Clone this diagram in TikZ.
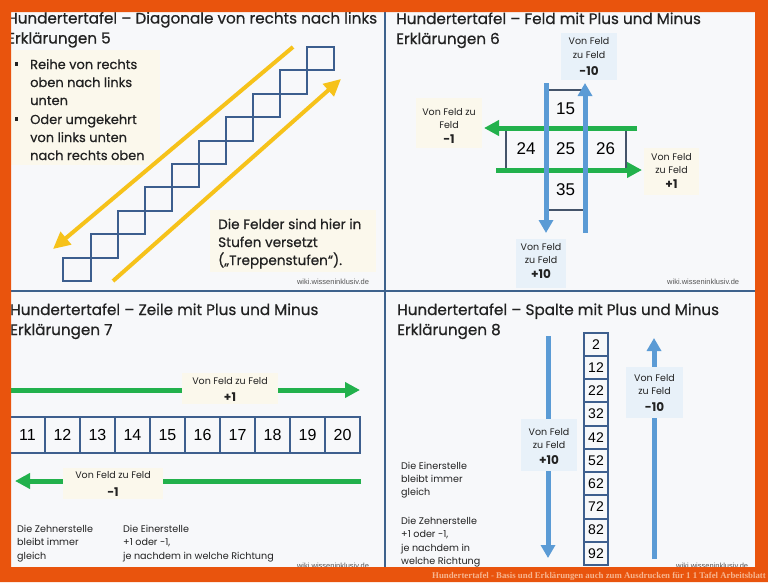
\documentclass[tikz,border=0pt]{standalone}
\usepackage{fontspec}
\setmainfont{Poppins}
\newfontfamily\medfont{Poppins}[FakeBold=0.6]
\newfontfamily\numfont{Liberation Sans}
\newfontfamily\capfont{Liberation Serif}
\usetikzlibrary{arrows.meta}
\definecolor{frameor}{RGB}{233,84,13}
\definecolor{panelbg}{RGB}{247,248,250}
\definecolor{divblue}{RGB}{62,98,140}
\definecolor{stairblue}{RGB}{60,94,142}
\definecolor{goldy}{RGB}{246,194,26}
\definecolor{creambg}{RGB}{251,248,236}
\definecolor{lightbluebg}{RGB}{232,241,249}
\definecolor{greenar}{RGB}{34,177,76}
\definecolor{bluear}{RGB}{91,155,213}
\definecolor{cellslate}{RGB}{68,84,106}
\definecolor{cellblue}{RGB}{62,95,142}
\definecolor{titlegray}{RGB}{34,34,34}
\definecolor{capcol}{RGB}{247,181,143}
\definecolor{wikigray}{RGB}{85,85,85}
\tikzset{
  ptitle/.style={anchor=base west, inner sep=0, font=\medfont\fontsize{15.2}{17}\selectfont, text=titlegray},
  bline/.style={anchor=base west, inner sep=0, font=\medfont\fontsize{13}{15}\selectfont, text=titlegray},
  fline/.style={anchor=base west, inner sep=0, font=\medfont\fontsize{13.6}{15}\selectfont, text=titlegray},
  sline/.style={anchor=base west, inner sep=0, font=\fontsize{9.6}{11}\selectfont, text=titlegray},
  lab/.style={anchor=base, inner sep=0, font=\fontsize{9.5}{11}\selectfont, text=titlegray},
  labval/.style={anchor=base, inner sep=0, font=\bfseries\fontsize{12}{14}\selectfont, text=titlegray},
  creambox/.style={fill=creambg, draw=none, inner sep=0},
  bluebox/.style={fill=lightbluebg, draw=none, inner sep=0},
  stairsq/.style={draw=stairblue, line width=2pt, minimum width=27.1pt, minimum height=23.4pt, inner sep=0},
  yarrow/.style={draw=goldy, line width=4pt, -{Triangle[length=17pt,width=16pt]}},
  garrow/.style={draw=greenar, line width=5pt, -{Triangle[length=15pt,width=15pt]}},
  barrow/.style={draw=bluear, line width=5pt, -{Triangle[length=13pt,width=14pt]}},
  cellA/.style={draw=cellslate, line width=1.5pt, inner sep=0, font=\numfont\fontsize{17}{19}\selectfont, text=black},
  cellB/.style={draw=cellblue, line width=2pt, inner sep=0, minimum width=35pt, minimum height=36pt, font=\numfont\fontsize{16}{18}\selectfont, text=black},
  cellC/.style={draw=cellblue, line width=2pt, inner sep=0, minimum width=24pt, minimum height=23.25pt, font=\numfont\fontsize{14}{16}\selectfont, text=black},
  wiki/.style={inner sep=0, font=\numfont\fontsize{7.5}{9}\selectfont, text=wikigray},
  divider/.style={draw=divblue, line width=2pt}
}
\begin{document}
\begin{tikzpicture}[x=1pt,y=-1pt]
\useasboundingbox (0,0) rectangle (768,582);
\fill[panelbg] (0,0) rectangle (768,582);

% ---------- Panel 1 ----------
\node[ptitle] (t1a) at (7,23.5) {Hundertertafel – Diagonale von rechts nach links};
\node[ptitle] (t1b) at (7,43.5) {Erklärungen 5};
\node[creambox, anchor=north west, minimum width=149pt, minimum height=115pt] (c1) at (11,50) {};
\node[fill=titlegray, minimum size=3.5pt, inner sep=0] (bs1) at (16.5,64) {};
\node[fill=titlegray, minimum size=3.5pt, inner sep=0] (bs2) at (16.5,119) {};
\node[bline] (b1a) at (30,69) {Reihe von rechts};
\node[bline] (b1b) at (30,87) {oben nach links};
\node[bline] (b1c) at (30,105) {unten};
\node[bline] (b2a) at (30,124) {Oder umgekehrt};
\node[bline] (b2b) at (30,142) {von links unten};
\node[bline] (b2c) at (30,160) {nach rechts oben};

\foreach \i in {0,...,9} \node[stairsq] (s\i) at (77.0+27.1*\i, 269.3-23.4*\i) {};

\coordinate (y1s) at (293,47);
\coordinate (y1e) at (53,249);
\coordinate (y2s) at (113,281);
\coordinate (y2e) at (341,79);
\draw[yarrow] (y1s) -- (y1e);
\draw[yarrow] (y2s) -- (y2e);

\node[creambox, anchor=north west, minimum width=166pt, minimum height=62pt] (c2) at (210,210) {};
\node[fline] (f1) at (218,229) {Die Felder sind hier in};
\node[fline] (f2) at (218,247) {Stufen versetzt};
\node[fline] (f3) at (218,265) {(„Treppenstufen“).};
\node[wiki] (w1) at (333,282) {wiki.wisseninklusiv.de};

% ---------- Panel 2 ----------
\node[ptitle] (t2a) at (396,24) {Hundertertafel – Feld mit Plus und Minus};
\node[ptitle] (t2b) at (396,44) {Erklärungen 6};

\node[cellA, minimum width=39pt, minimum height=38pt] (c15) at (565.5,109) {15};
\node[cellA, minimum width=40pt, minimum height=42pt] (c24) at (526,149) {24};
\node[cellA, minimum width=39pt, minimum height=42pt] (c25) at (565.5,149) {25};
\node[cellA, minimum width=41pt, minimum height=42pt] (c26) at (605.5,149) {26};
\node[cellA, minimum width=39pt, minimum height=40pt] (c35) at (565.5,190) {35};

\coordinate (g1s) at (637,128);
\coordinate (g1e) at (484,128);
\coordinate (g2s) at (496,170);
\coordinate (g2e) at (642,170);
\draw[garrow] (g1s) -- (g1e);
\draw[garrow] (g2s) -- (g2e);
\coordinate (bl1s) at (546,83);
\coordinate (bl1e) at (546,233);
\coordinate (bl2s) at (585,233);
\coordinate (bl2e) at (585,83);
\draw[barrow] (bl1s) -- (bl1e);
\draw[barrow] (bl2s) -- (bl2e);

\node[bluebox, minimum width=56pt, minimum height=47pt] (lb1) at (589,56.5) {};
\node[lab] (lb1a) at (589,44.5) {Von Feld};
\node[lab] (lb1b) at (589,58) {zu Feld};
\node[labval] (lb1c) at (589,75) {-10};

\node[bluebox, minimum width=50pt, minimum height=49pt] (lb2) at (541,263.5) {};
\node[lab] (lb2a) at (541,250) {Von Feld};
\node[lab] (lb2b) at (541,263) {zu Feld};
\node[labval] (lb2c) at (541,278) {+10};

\node[creambox, minimum width=66pt, minimum height=50pt] (lb3) at (449,123) {};
\node[lab] (lb3a) at (449,115) {Von Feld zu};
\node[lab] (lb3b) at (449,128) {Feld};
\node[labval] (lb3c) at (449,143) {-1};

\node[creambox, minimum width=55pt, minimum height=47pt] (lb4) at (671.5,171.5) {};
\node[lab] (lb4a) at (671.5,160) {Von Feld};
\node[lab] (lb4b) at (671.5,173) {zu Feld};
\node[labval] (lb4c) at (671.5,188) {+1};
\node[wiki, anchor=west] (w2) at (667,282) {wiki.wisseninklusiv.de};

% ---------- Panel 3 ----------
\node[ptitle] (t3a) at (10,315) {Hundertertafel – Zeile mit Plus und Minus};
\node[ptitle] (t3b) at (10,335) {Erklärungen 7};

\coordinate (g3s) at (8,390);
\coordinate (g3e) at (360,390);
\draw[garrow] (g3s) -- (g3e);
\node[creambox, minimum width=96pt, minimum height=31pt] (lb5) at (230,388.5) {};
\node[lab] (lb5a) at (230,384.3) {Von Feld zu Feld};
\node[labval] (lb5b) at (230,401) {+1};

\foreach \n [count=\i from 0] in {11,...,20} \node[cellB] (r\n) at (27.5+35*\i,435) {\n};

\coordinate (g4s) at (361,481);
\coordinate (g4e) at (15,481);
\draw[garrow] (g4s) -- (g4e);
\node[creambox, minimum width=100pt, minimum height=31pt] (lb6) at (113,483.5) {};
\node[lab] (lb6a) at (113,478.7) {Von Feld zu Feld};
\node[labval] (lb6b) at (113,496) {-1};

\node[sline] (p3a) at (17,532.5) {Die Zehnerstelle};
\node[sline] (p3b) at (17,545.8) {bleibt immer};
\node[sline] (p3c) at (17,559) {gleich};
\node[sline] (p3d) at (123,532.5) {Die Einerstelle};
\node[sline] (p3e) at (123,545.8) {+1 oder -1,};
\node[sline] (p3f) at (123,559) {je nachdem in welche Richtung};
\node[wiki] (w3) at (333,566) {wiki.wisseninklusiv.de};

% ---------- Panel 4 ----------
\node[ptitle] (t4a) at (397,315) {Hundertertafel – Spalte mit Plus und Minus};
\node[ptitle] (t4b) at (397,335) {Erklärungen 8};

\foreach \n [count=\i from 0] in {2,12,22,32,42,52,62,72,82,92} \node[cellC] (k\n) at (596,344.3+23.23*\i) {\n};

\coordinate (bl3s) at (548,336);
\coordinate (bl3e) at (548,558);
\coordinate (bl4s) at (654,559);
\coordinate (bl4e) at (654,338);
\draw[barrow] (bl3s) -- (bl3e);
\draw[barrow] (bl4s) -- (bl4e);

\node[bluebox, minimum width=56pt, minimum height=52pt] (lb7) at (549,445) {};
\node[lab] (lb7a) at (549,435) {Von Feld};
\node[lab] (lb7b) at (549,448) {zu Feld};
\node[labval] (lb7c) at (549,464) {+10};

\node[bluebox, minimum width=57pt, minimum height=51pt] (lb8) at (654.5,392.5) {};
\node[lab] (lb8a) at (654.5,381.7) {Von Feld};
\node[lab] (lb8b) at (654.5,394.5) {zu Feld};
\node[labval] (lb8c) at (654.5,411) {-10};

\node[sline] (p4a) at (401,469) {Die Einerstelle};
\node[sline] (p4b) at (401,482) {bleibt immer};
\node[sline] (p4c) at (401,495) {gleich};
\node[sline] (p4d) at (401,524) {Die Zehnerstelle};
\node[sline] (p4e) at (401,537.5) {+1 oder -1,};
\node[sline] (p4f) at (401,551) {je nachdem in};
\node[sline] (p4g) at (401,564.5) {welche Richtung};
\node[wiki, anchor=west] (w4) at (676,566) {wiki.wisseninklusiv.de};

% ---------- dividers and frame ----------
\coordinate (dv1) at (385,12);
\coordinate (dv2) at (385,567);
\coordinate (dh1) at (11,291);
\coordinate (dh2) at (755,291);
\coordinate (dr1) at (755.5,291);
\coordinate (dr2) at (755.5,567);
\draw[divider] (dv1) -- (dv2);
\draw[divider] (dh1) -- (dh2);
\draw[divider, line width=1pt] (dr1) -- (dr2);
\fill[frameor, even odd rule] (0,0) rectangle (768,582) (11,12) rectangle (755,567);
\node[anchor=base east, inner sep=0, font=\capfont\bfseries\fontsize{8.8}{10}\selectfont, text=capcol] (cap) at (766,578) {Hundertertafel - Basis und Erklärungen auch zum Ausdrucken für 1 1 Tafel Arbeitsblatt};
\end{tikzpicture}
\end{document}
